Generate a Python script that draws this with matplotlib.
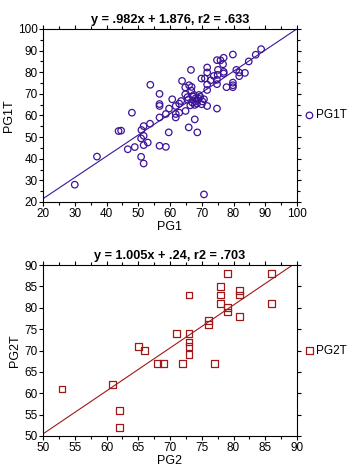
import matplotlib
matplotlib.use("Agg")
import matplotlib.pyplot as plt
from matplotlib.ticker import MultipleLocator
import numpy as np

plt.rcParams['font.family'] = ['Liberation Sans', 'DejaVu Sans']

# ---- Data: PG1 vs PG1T ----
pg1 = [30, 37, 46.7, 48.9, 48, 43.8, 44.6, 51, 51.7, 51.7, 50.9, 51.7, 53, 53.7,
       50.9, 51.7, 53.8, 56.7, 56.7, 56.7, 56.7, 56.7, 58.7, 59.6, 58.7, 59.7, 60.7,
       61.8, 61.8, 61.8, 62.9, 62.9, 63.5, 63.8, 64.8, 64.8, 64.9, 65.9, 65.7, 66,
       66.4, 66.6, 66.8, 66.7, 67.5, 67.8, 67.8, 68.1, 68.4, 68, 68.6, 69.1, 69.5,
       69.9, 70, 70.7, 70.7, 71, 71.7, 71.7, 71.7, 71.7, 71.7, 72.8, 73.8, 74.8,
       74.8, 74.8, 74.8, 75, 75.1, 75.9, 76.7, 76.9, 76.9, 76.9, 77.8, 79.8, 79.8,
       79.8, 79.8, 80.9, 81.8, 81.8, 83.6, 84.8, 87, 88.7,
       67.0, 68.5, 69.0, 67.2, 65.5, 70.2]
pg1t = [28, 41, 44.4, 45.4, 61.3, 52.8, 53, 53.3, 55.1, 50.6, 49.4, 46.3, 47.5, 56.2,
        40.9, 37.8, 74.2, 70, 65.3, 64.4, 59.1, 46, 45.5, 52.2, 60.7, 63.2, 67.5,
        64.4, 60.7, 59.1, 61.3, 65.5, 66.7, 76, 69.8, 73, 62.1, 54.5, 67.2, 74,
        64.7, 81.1, 73.2, 71.5, 69.5, 58.2, 64.9, 68, 67.2, 66.4, 52.2, 69.5, 68.7,
        77.1, 65.2, 67.5, 23.5, 77.1, 64.4, 71.8, 74.3, 79.9, 82.2, 76.3, 78.3, 74.5,
        63.2, 85.6, 76.5, 78.8, 81.1, 85.5, 83.7, 86.7, 80.2, 79.4, 73.1, 88.2, 75.2,
        74, 73.1, 81.1, 79.9, 78.2, 79.7, 85, 88.1, 90.7,
        66.0, 65.5, 67.8, 68.8, 68.5, 66.5]
fit1 = (0.982, 1.876)
title1 = "y = .982x + 1.876, r2 = .633"

# ---- Data: PG2 vs PG2T ----
pg2 = [53, 61, 62, 62, 65, 66, 68, 69, 71, 72, 73, 73, 73, 73, 73, 76, 76, 77,
       78, 78, 78, 79, 79, 79, 81, 81, 81, 86, 86]
pg2t = [61, 62, 56, 52, 71, 70, 67, 67, 74, 67, 83, 74, 72, 71, 69, 77, 76, 67,
        85, 83, 81, 88, 80, 79, 84, 83, 78, 88, 81]
fit2 = (1.005, 0.24)
title2 = "y = 1.005x + .24, r2 = .703"

W, H = 359, 469
fig = plt.figure(figsize=(W / 100, H / 100), dpi=100)
fig.patch.set_facecolor('white')

def add_ax(l, t, r, b):
    return fig.add_axes([l / W, 1 - b / H, (r - l) / W, (b - t) / H])

def style(ax, xlim, ylim, xmaj, ymaj, xmin, ymin):
    ax.set_xlim(*xlim)
    ax.set_ylim(*ylim)
    ax.xaxis.set_major_locator(MultipleLocator(xmaj))
    ax.yaxis.set_major_locator(MultipleLocator(ymaj))
    ax.xaxis.set_minor_locator(MultipleLocator(xmin))
    ax.yaxis.set_minor_locator(MultipleLocator(ymin))
    ax.tick_params(which='both', direction='out', top=True, right=True,
                   labeltop=False, labelright=False, labelsize=8.5, width=0.8,
                   pad=1)
    ax.tick_params(which='major', length=3)
    ax.tick_params(which='minor', length=2)
    for s in ax.spines.values():
        s.set_linewidth(0.8)

def legend(ax):
    ax.legend(loc='center left', bbox_to_anchor=(1.035, 0.5), frameon=False,
              fontsize=8.5, handletextpad=0.25, handlelength=0.6,
              borderaxespad=0, borderpad=0)

c1 = '#3c1496'
c2 = '#a01818'

ax1 = add_ax(43, 29, 297, 202)
ax1.scatter(pg1, pg1t, s=22, facecolors='none', edgecolors=c1, linewidths=0.9,
            marker='o', label='PG1T', zorder=3)
xs = np.array([20, 100])
ax1.plot(xs, fit1[0] * xs + fit1[1], color=c1, lw=0.8, zorder=2)
style(ax1, (20, 100), (20, 100), 10, 10, 5, 5)
ax1.set_xlabel('PG1', fontsize=9, labelpad=1)
ax1.set_ylabel('PG1T', fontsize=9, labelpad=2)
ax1.set_title(title1, fontsize=9.2, fontweight='bold', pad=4)
legend(ax1)

ax2 = add_ax(43, 265, 297, 436)
ax2.scatter(pg2, pg2t, s=24, facecolors='none', edgecolors=c2, linewidths=0.9,
            marker='s', label='PG2T', zorder=3)
xs2 = np.array([50, 90])
ax2.plot(xs2, fit2[0] * xs2 + fit2[1], color=c2, lw=0.8, zorder=2)
style(ax2, (50, 90), (50, 90), 5, 5, 2.5, 5)
ax2.set_xlabel('PG2', fontsize=9, labelpad=1)
ax2.set_ylabel('PG2T', fontsize=9, labelpad=2)
ax2.set_title(title2, fontsize=9.2, fontweight='bold', pad=4)
legend(ax2)

fig.savefig('out.png', dpi=100, facecolor='white')
